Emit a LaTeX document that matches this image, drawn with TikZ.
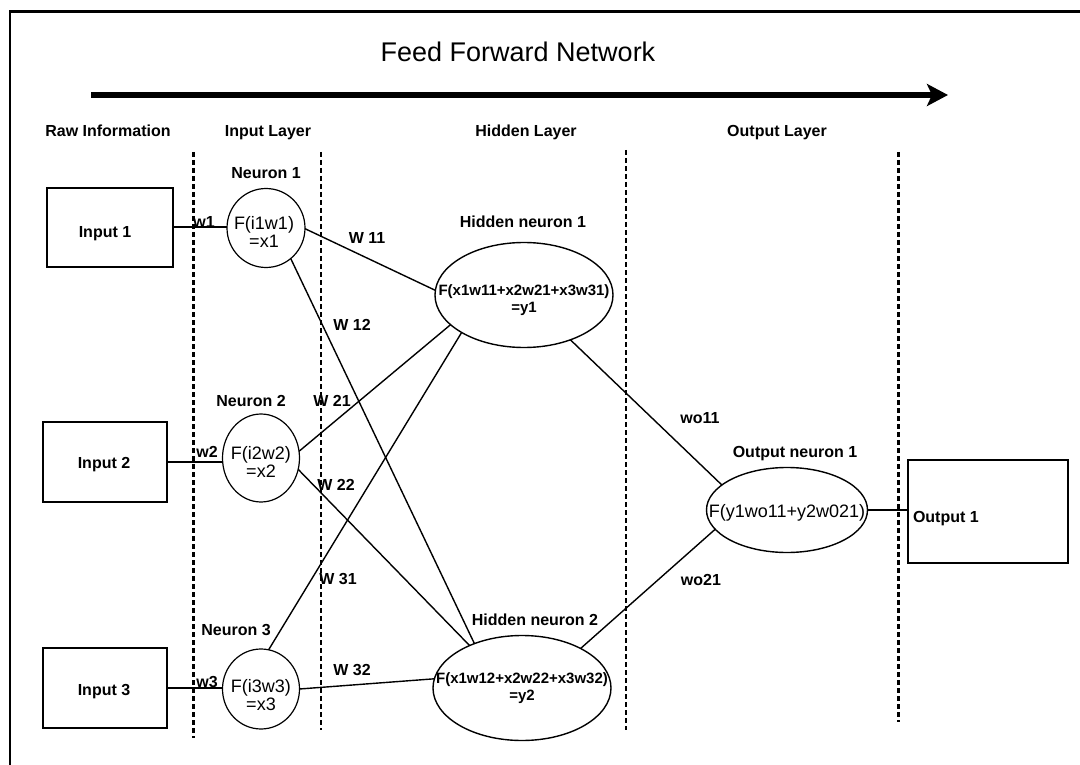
\documentclass[tikz,border=0pt]{standalone}
\usepackage{fontspec}
\setmainfont{Liberation Sans}
\usetikzlibrary{arrows.meta,shapes.geometric}

\begin{document}
\begin{tikzpicture}[x=1pt,y=-1pt,
  every node/.style={inner sep=0pt,outer sep=0pt},
  inbox/.style={draw,rectangle,line width=2pt,text depth=0pt,font=\fontsize{16}{19}\selectfont\bfseries},
  neuron/.style={draw,ellipse,line width=1.2pt},
  neurontext/.style={align=center,font=\fontsize{18}{18}\selectfont},
  hidden/.style={draw,ellipse,line width=1.4pt,minimum width=178pt,minimum height=105pt},
  hiddentext/.style={align=center,font=\fontsize{15}{17}\selectfont\bfseries},
  outneuron/.style={draw,ellipse,line width=1.4pt,minimum width=161pt,minimum height=85pt},
  lbl/.style={text depth=0pt,font=\fontsize{16}{19}\selectfont\bfseries},
  link/.style={line width=1.4pt},
  feed/.style={line width=2pt},
  sepline/.style={line width=#1,dash pattern=on 5pt off 3pt},
  sepline/.default=2pt]

\useasboundingbox (0,0) rectangle (1080,765);

% outer frame
\draw[line width=2.5pt] (1080,11.5) -- (10,11.5) -- (10,765);

% title and direction of flow
\node[font=\fontsize{27}{30}\selectfont] (title) at (518,52) {Feed Forward Network};
\coordinate (flowstart) at (91,95);
\coordinate (flowend) at (948,95);
\draw[line width=6pt,-{Stealth[length=21pt,width=22pt,inset=5pt]}] (flowstart) -- (flowend);

% column headings
\node[lbl] (hraw) at (108,131) {Raw Information};
\node[lbl] (hin) at (268,131) {Input Layer};
\node[lbl] (hhid) at (526,131) {Hidden Layer};
\node[lbl] (hout) at (777,131) {Output Layer};

% layer separators
\draw[sepline=3pt] (193,152) -- (193,738);
\draw[sepline] (321,152) -- (321,730);
\draw[sepline] (626,150) -- (626,730);
\draw[sepline=3pt] (898,152) -- (898,722);

% raw inputs
\node[inbox,minimum width=126pt,minimum height=79pt] (in1) at (110,227.5) {};
\node[inbox,minimum width=124pt,minimum height=80pt] (in2) at (105,462) {};
\node[inbox,minimum width=124pt,minimum height=80pt] (in3) at (105,688) {};
\node[lbl] (tin1) at (105,232) {Input 1};
\node[lbl] (tin2) at (104,463) {Input 2};
\node[lbl] (tin3) at (104,690) {Input 3};

% input layer neurons
\node[neuron,minimum width=78pt,minimum height=79pt] (n1) at (266,228) {};
\node[neuron,minimum width=77pt,minimum height=88pt] (n2) at (261,458) {};
\node[neuron,minimum width=77pt,minimum height=80pt] (n3) at (261,689) {};
\node[neurontext] (tn1) at (264,232) {F(i1w1)\\=x1};
\node[neurontext] (tn2) at (261,462) {F(i2w2)\\=x2};
\node[neurontext] (tn3) at (261,695) {F(i3w3)\\=x3};

\node[lbl] (ln1) at (266,173) {Neuron 1};
\node[lbl] (ln2) at (251,401) {Neuron 2};
\node[lbl] (ln3) at (236,630) {Neuron 3};

% hidden layer neurons
\node[hidden] (h1) at (524,295) {};
\node[hidden] (h2) at (522,688) {};
\node[hiddentext] (th1) at (524,300) {F(x1w11+x2w21+x3w31)\\=y1};
\node[hiddentext] (th2) at (522,688) {F(x1w12+x2w22+x3w32)\\=y2};
\node[lbl] (lh1) at (523,222) {Hidden neuron 1};
\node[lbl] (lh2) at (535,620) {Hidden neuron 2};

% output neuron and output
\node[outneuron] (o1) at (787,510) {};
\node[font=\fontsize{18}{18}\selectfont] (to1) at (787,513) {F(y1wo11+y2w021)};
\node[lbl] (lo1) at (795,452) {Output neuron 1};
\node[inbox,minimum width=160pt,minimum height=103pt] (out1) at (988,511.5) {};
\node[lbl,anchor=west] (tout1) at (913,517) {Output 1};

% inputs into the input layer
\draw[feed] (in1.east) -- (in1.east -| n1.west);
\draw[feed] (in2.east) -- (in2.east -| n2.west);
\draw[feed] (in3.east) -- (in3.east -| n3.west);
\node[lbl] (w1) at (204,222) {w1};
\node[lbl] (w2) at (207,452) {w2};
\node[lbl] (w3) at (207,682) {w3};

% input layer to hidden layer
\draw[link] (n1.-1) -- (h1.177);
\draw[link] (n1.-51) -- (h2.137);
\draw[link] (n2.10) -- (h1.-158);
\draw[link] (n2.-17) -- (h2.141);
\draw[link] (n3.79) -- (h1.-149);
\draw[link] (n3.0) -- (h2.174);
\node[lbl] (lw11) at (367,238) {W 11};
\node[lbl] (lw12) at (352,325) {W 12};
\node[lbl] (lw21) at (332,401) {W 21};
\node[lbl] (lw22) at (336,485) {W 22};
\node[lbl] (lw31) at (338,579) {W 31};
\node[lbl] (lw32) at (352,670) {W 32};

% hidden layer to output
\draw[link] (h1.-44) -- (o1.159);
\draw[link] (h2.34) -- (o1.-165);
\node[lbl] (lwo11) at (700,418) {wo11};
\node[lbl] (lwo21) at (701,580) {wo21};
\draw[feed] (o1.east) -- (o1.east -| out1.west);
\end{tikzpicture}
\end{document}
